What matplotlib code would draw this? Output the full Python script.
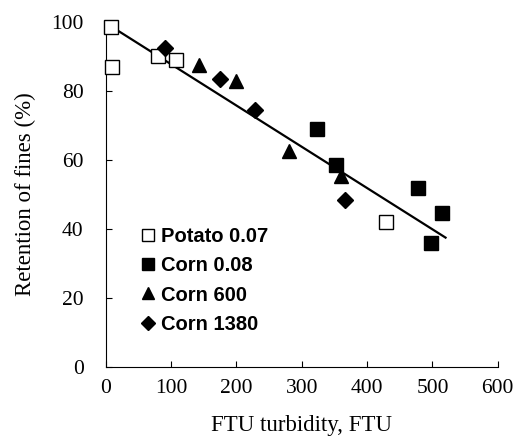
import matplotlib.pyplot as plt
import numpy as np

# data
potato_x = [8, 10, 80, 107, 429]
potato_y = [98.5, 87, 90, 89, 42]
corn008_x = [323, 352, 478, 498, 514]
corn008_y = [69, 58.5, 52, 36, 44.5]
corn600_x = [142, 199, 280, 360]
corn600_y = [87.5, 83, 62.5, 55.5]
corn1380_x = [90, 175, 228, 366]
corn1380_y = [92.5, 83.5, 74.5, 48.5]
fit_x = [10, 520]
fit_y = [98.5, 37.5]

serif = 'Liberation Serif'
sans = 'Liberation Sans'

fig = plt.figure(figsize=(5.24, 4.4), dpi=100)
ax = fig.add_axes([0.202, 0.166, 0.748, 0.784])

ax.plot(fit_x, fit_y, color='black', lw=1.6, zorder=2)
ax.plot(potato_x, potato_y, 's', ms=9.5, mfc='white', mec='black', mew=1.0,
        ls='none', clip_on=False, label='Potato 0.07', zorder=3)
ax.plot(corn008_x, corn008_y, 's', ms=9.5, color='black',
        ls='none', clip_on=False, label='Corn 0.08', zorder=3)
ax.plot(corn600_x, corn600_y, '^', ms=10, color='black',
        ls='none', clip_on=False, label='Corn 600', zorder=3)
ax.plot(corn1380_x, corn1380_y, 'D', ms=8, color='black',
        ls='none', clip_on=False, label='Corn 1380', zorder=3)

ax.set_xlim(0, 600)
ax.set_ylim(0, 100)
ax.set_xticks(np.arange(0, 601, 100))
ax.set_yticks(np.arange(0, 101, 20))
for s in ['top', 'right']:
    ax.spines[s].set_visible(False)
for s in ['left', 'bottom']:
    ax.spines[s].set_linewidth(0.8)
ax.tick_params(direction='in', length=4, width=0.8)
ax.tick_params(axis='y', pad=16)
ax.tick_params(axis='x', pad=9)
for lab in ax.get_xticklabels() + ax.get_yticklabels():
    lab.set_fontfamily(serif)
    lab.set_fontsize(15.5)

ax.set_xlabel('FTU turbidity, FTU', fontfamily=serif, fontsize=16.5, labelpad=12)
ax.set_ylabel('Retention of fines (%)', fontfamily=serif, fontsize=16.5, labelpad=11)

ax.legend(loc='upper left', bbox_to_anchor=(0.072, 0.428), frameon=False,
          prop={'family': sans, 'size': 14.5, 'weight': 'bold'},
          markerscale=0.85, handlelength=0.6, handletextpad=0.35,
          labelspacing=0.5, borderaxespad=0, numpoints=1)

fig.savefig('out.png', dpi=100)
